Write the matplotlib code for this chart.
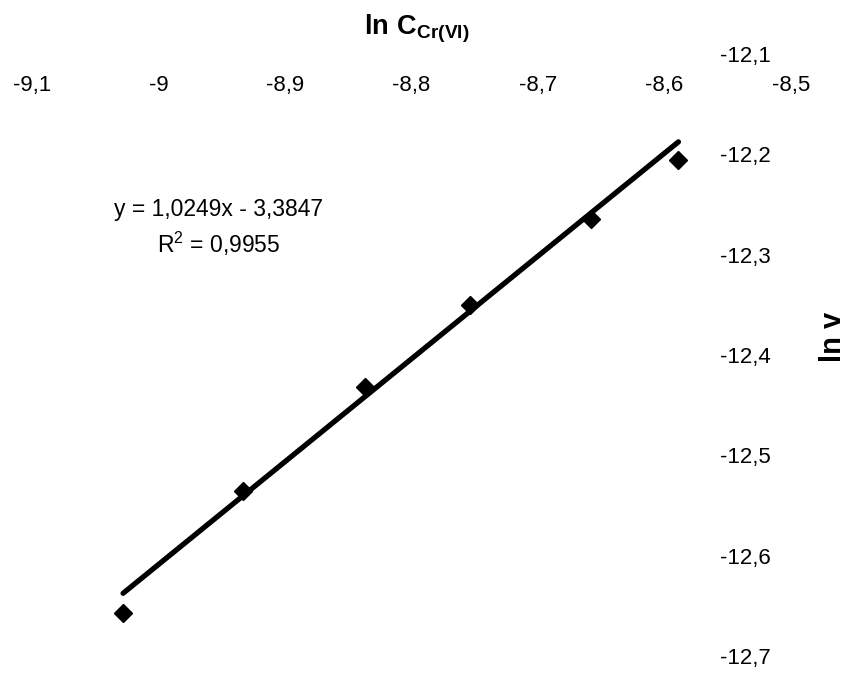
import numpy as np
import matplotlib.pyplot as plt

# data
ln_c = [-9.028, -8.933, -8.837, -8.754, -8.658, -8.589]
ln_v = [-12.657, -12.536, -12.432, -12.350, -12.264, -12.206]

# trendline as printed on the chart
slope = 1.0249
intercept = -3.3847
r2_text = "0,9955"

xticks = [-9.1, -9.0, -8.9, -8.8, -8.7, -8.6, -8.5]
xtick_labels = ['-9,1', '-9', '-8,9', '-8,8', '-8,7', '-8,6', '-8,5']
yticks = [-12.1, -12.2, -12.3, -12.4, -12.5, -12.6, -12.7]
ytick_labels = ['-12,1', '-12,2', '-12,3', '-12,4', '-12,5', '-12,6', '-12,7']

plt.rcParams['font.family'] = ['Liberation Sans', 'DejaVu Sans']
plt.rcParams['mathtext.fontset'] = 'custom'
plt.rcParams['mathtext.rm'] = 'Liberation Sans'
plt.rcParams['mathtext.bf'] = 'Liberation Sans:bold'

fig = plt.figure(figsize=(8.49, 6.76), dpi=100)
ax = fig.add_axes([0.0377, 0.0296, 0.894, 0.8905])

# trendline over the data range
xs = np.array([min(ln_c), max(ln_c)])
ax.plot(xs, slope * xs + intercept, color='black', lw=3.8, solid_capstyle='round', zorder=2)
ax.plot(ln_c, ln_v, linestyle='none', marker='D', ms=9.5, color='black', zorder=3)

ax.set_xlim(-9.1, -8.5)
ax.set_ylim(-12.7, -12.1)

for s in ax.spines.values():
    s.set_visible(False)

ax.set_xticks(xticks)
ax.set_xticklabels(xtick_labels)
ax.set_yticks(yticks)
ax.set_yticklabels(ytick_labels)

# x labels on top, y labels on the right, both drawn inside the plot area
ax.tick_params(axis='x', bottom=False, labelbottom=False, top=False, labeltop=True,
               length=0, pad=-30, labelsize=16)
ax.tick_params(axis='y', left=False, labelleft=False, right=False, labelright=True,
               length=0, pad=-51, labelsize=16)

ax.set_xlabel(r'$\mathbf{ln\ C_{Cr(VI)}}$', fontsize=19.5)
ax.xaxis.set_label_coords(0.507, 1.068)
ax.set_ylabel('ln v', fontsize=21, fontweight='bold', rotation=90)
ax.yaxis.set_label_coords(1.074, 0.53)

eq = "y = 1,0249x - 3,3847\nR$^2$ = " + r2_text
ax.text(0.246, 0.711, eq, transform=ax.transAxes, ha='center', va='center',
        multialignment='center', fontsize=16.5, linespacing=1.35)

fig.savefig('out.png', dpi=100)
